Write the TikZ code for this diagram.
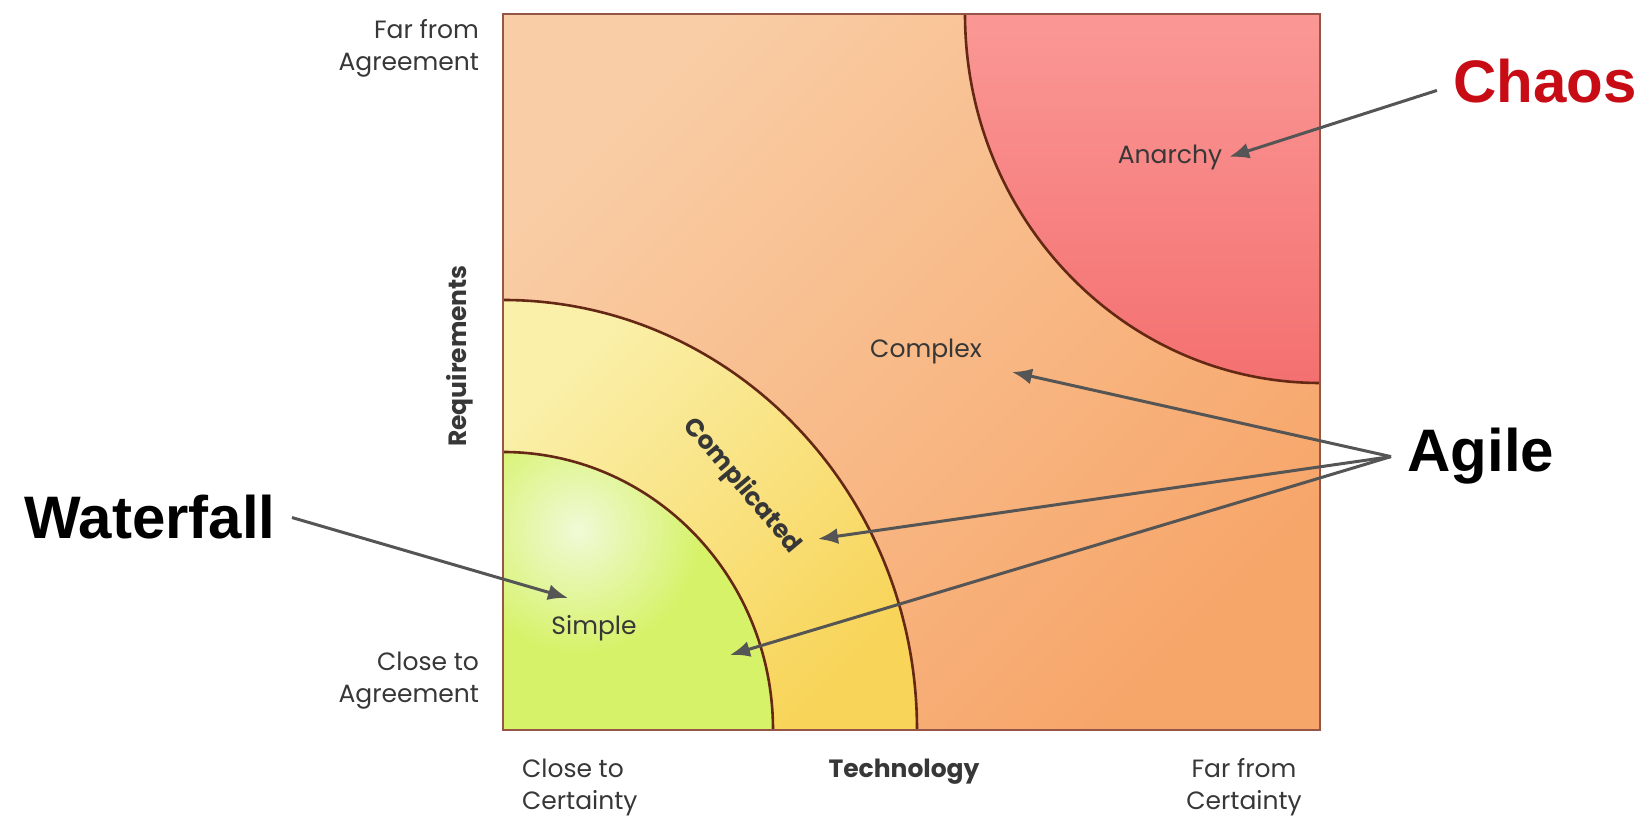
\documentclass[tikz,border=0pt]{standalone}
\usepackage{fontspec}
\setmainfont{Poppins}
\newfontfamily\headfont{Liberation Sans}
\usetikzlibrary{arrows.meta,calc}

\definecolor{bglight}{RGB}{249,205,165}
\definecolor{bgdark}{RGB}{247,166,106}
\definecolor{redlight}{RGB}{250,152,150}
\definecolor{reddark}{RGB}{244,112,112}
\definecolor{yellight}{RGB}{250,240,170}
\definecolor{yeldark}{RGB}{248,212,88}
\definecolor{grnlight}{RGB}{240,250,215}
\definecolor{grndark}{RGB}{214,242,104}
\definecolor{edgecol}{RGB}{150,85,70}
\definecolor{rimcol}{RGB}{100,40,20}
\definecolor{arrgray}{RGB}{85,85,85}
\definecolor{txtgray}{RGB}{55,55,55}
\definecolor{chaosred}{RGB}{200,12,22}

\begin{document}
\begin{tikzpicture}[x=0.5pt,y=0.5pt,
  lbl/.style={text=txtgray, font=\fontsize{12.5}{16}\selectfont, align=center},
  axislbl/.style={text=txtgray, font=\bfseries\fontsize{12.5}{16}\selectfont, align=center},
  biglbl/.style={font=\headfont\bfseries\fontsize{30}{36}\selectfont, inner sep=8pt},
  arr/.style={draw=arrgray, line width=1.5pt, -{Latex[length=10pt,width=8pt]}},
  rim/.style={draw=rimcol, line width=1.3pt}]

\useasboundingbox (0,0) rectangle (1651,822);

\coordinate (BL) at (503,92);
\coordinate (TR) at (1320,808);

\shade[top color=bglight, bottom color=bgdark, shading angle=45] (BL) rectangle (TR);
\shade[top color=redlight, bottom color=reddark] (TR) -- (965,808)
  arc[start angle=180, end angle=270, x radius=177.5pt, y radius=184.5pt] -- cycle;
\shade[top color=yellight, bottom color=yeldark, shading angle=45] (BL) -- (917,92)
  arc[start angle=0, end angle=90, x radius=207pt, y radius=215pt] -- cycle;
\begin{scope}
  \clip (BL) -- (773,92) arc[start angle=0, end angle=90, x radius=135pt, y radius=139pt] -- cycle;
  \fill[grndark] (BL) rectangle (773,370);
  \shade[inner color=grnlight, outer color=grndark] (578,292) circle (62pt);
\end{scope}

\draw[rim] (965,808) arc[start angle=180, end angle=270, x radius=177.5pt, y radius=184.5pt];
\draw[rim] (917,92) arc[start angle=0, end angle=90, x radius=207pt, y radius=215pt];
\draw[rim] (773,92) arc[start angle=0, end angle=90, x radius=135pt, y radius=139pt];
\draw[draw=edgecol, line width=1.2pt] (BL) rectangle (TR);

\node[lbl, align=right, anchor=east] (farAgr) at (486,774) {Far from\\Agreement};
\node[lbl, align=right, anchor=east] (closeAgr) at (486,141) {Close to\\Agreement};
\node[lbl, align=left, anchor=west] (closeCert) at (515,35) {Close to\\Certainty};
\node[lbl] (farCert) at (1244,35) {Far from\\Certainty};
\node[axislbl] (tech) at (904,50) {Technology};
\node[axislbl, rotate=90] (req) at (460,466) {Requirements};

\node[lbl] (anarchy) at (1170,665) {Anarchy};
\node[lbl] (complex) at (926,470) {Complex};
\node[axislbl, rotate=-50] (complicated) at (742,336) {Complicated};
\node[lbl] (simple) at (594,194) {Simple};

\node[biglbl, text=chaosred] (chaos) at (1545,741) {Chaos};
\node[biglbl, anchor=base west] (agile) at (1391,350) {Agile};
\node[biglbl, anchor=base west] (waterfall) at (8,283) {Waterfall};

\coordinate (complexTip) at (1012,450);
\coordinate (compTip) at (818,283);
\coordinate (simpleTip) at (730,167);
\coordinate (fallTip) at (568,224);

\draw[arr] (chaos.185) -- (anarchy.east);
\draw[arr] (agile.west) -- (complexTip);
\draw[arr] (agile.west) -- (compTip);
\draw[arr] (agile.west) -- (simpleTip);
\draw[arr] (waterfall.east) -- (fallTip);
\end{tikzpicture}
\end{document}
